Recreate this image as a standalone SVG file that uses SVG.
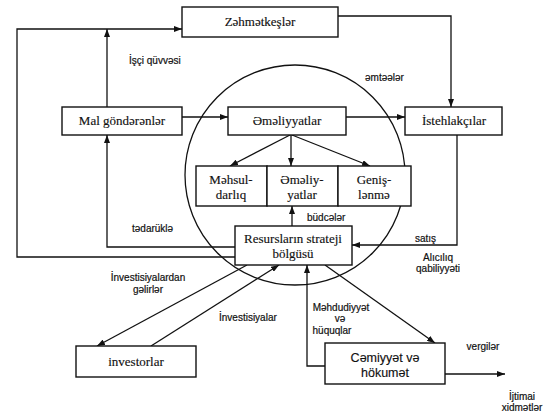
<svg xmlns="http://www.w3.org/2000/svg" width="550" height="413" viewBox="0 0 550 413">
  <style>
    .box { fill: #fff; stroke: #111; stroke-width: 1.4; }
    .line { fill: none; stroke: #111; stroke-width: 1.3; }
    .node { font-family: "Liberation Serif", "Times New Roman", serif; font-size: 13px; fill: #111; text-anchor: middle; stroke: #111; stroke-width: 0.15; }
    .node-sans { font-family: "Liberation Sans", Arial, sans-serif; font-size: 12.5px; }
    .lbl { font-family: "Liberation Sans", Arial, sans-serif; font-size: 10px; fill: #111; stroke: #111; stroke-width: 0.2; }
    .mid { text-anchor: middle; }
  </style>
  <defs>
    <marker id="arrow" markerUnits="userSpaceOnUse" markerWidth="8" markerHeight="6" refX="8" refY="3" orient="auto">
      <path d="M0,0 L8,3 L0,6 z" fill="#111"/>
    </marker>
  </defs>

  <rect width="550" height="413" fill="#fff"/>

  <!-- enterprise boundary -->
  <circle cx="295" cy="175" r="110" class="line"/>

  <!-- connectors -->
  <g id="connectors" class="line" marker-end="url(#arrow)">
    <path d="M235,257 H17 V29 H182"/>
    <path d="M107,107 V29"/>
    <path d="M235,247 H107 V135"/>
    <path d="M182,117 H228"/>
    <path d="M346,117 H405"/>
    <path d="M338,16 H451 V107"/>
    <path d="M457,135 V245 H352"/>
    <path d="M290,135 L230,166"/>
    <path d="M291,135 V166"/>
    <path d="M292,135 L370,166"/>
    <path d="M292,226 V206"/>
    <path d="M247,265 L97,346"/>
    <path d="M151,346 L279,265"/>
    <path d="M325,366 H307 V265"/>
    <path d="M325,265 L435,343"/>
    <path d="M445,374 H505"/>
  </g>

  <!-- flow labels -->
  <g id="labels">
    <text class="lbl" x="129" y="64">İşçi qüvvəsi</text>
    <text class="lbl" x="365" y="81">əmtəələr</text>
    <text class="lbl" x="132" y="232">tədarüklə</text>
    <text class="lbl" x="307" y="221">büdcələr</text>
    <text class="lbl" x="415" y="242">satış</text>
    <text class="lbl mid" x="438" y="261">Alıcılıq</text>
    <text class="lbl mid" x="438" y="272">qabiliyyəti</text>
    <text class="lbl mid" x="148" y="281">İnvestisiyalardan</text>
    <text class="lbl mid" x="148" y="293">gəlirlər</text>
    <text class="lbl" x="219" y="321">İnvestisiyalar</text>
    <text class="lbl mid" x="341" y="311">Məhdudiyyət</text>
    <text class="lbl mid" x="340" y="322">və</text>
    <text class="lbl mid" x="332" y="334">hüquqlar</text>
    <text class="lbl mid" x="483" y="350">vergilər</text>
    <text class="lbl mid" x="522" y="400">İjtimai</text>
    <text class="lbl mid" x="522" y="411">xidmətlər</text>
  </g>

  <g id="zehmetkesler">
    <rect class="box" x="182" y="7" width="156" height="30"/>
    <text class="node" x="260" y="26">Zəhmətkeşlər</text>
  </g>

  <g id="mal-gonderenler">
    <rect class="box" x="62" y="107" width="120" height="28"/>
    <text class="node" x="122" y="125">Mal göndərənlər</text>
  </g>

  <g id="emeliyyatlar">
    <rect class="box" x="228" y="107" width="118" height="28"/>
    <text class="node" x="287" y="125">Əməliyyatlar</text>
  </g>

  <g id="istehlakcilar">
    <rect class="box" x="405" y="107" width="97" height="28"/>
    <text class="node" x="454" y="125">İstehlakçılar</text>
  </g>

  <g id="mehsuldarliq">
    <rect class="box" x="196" y="166" width="71" height="40"/>
    <text class="node" x="231" y="184">Məhsul-</text>
    <text class="node" x="231" y="199">darlıq</text>
  </g>

  <g id="emeliyyatlar-2">
    <rect class="box" x="267" y="166" width="71" height="40"/>
    <text class="node" x="302" y="184">Əməliy-</text>
    <text class="node" x="302" y="199">yatlar</text>
  </g>

  <g id="genislenme">
    <rect class="box" x="338" y="166" width="73" height="40"/>
    <text class="node" x="374" y="184">Geniş-</text>
    <text class="node" x="374" y="199">lənmə</text>
  </g>

  <g id="resurslar">
    <rect class="box" x="235" y="226" width="117" height="39"/>
    <text class="node" x="293" y="243">Resursların strateji</text>
    <text class="node" x="293" y="258">bölgüsü</text>
  </g>

  <g id="investorlar">
    <rect class="box" x="76" y="346" width="120" height="31"/>
    <text class="node" x="136" y="366">investorlar</text>
  </g>

  <g id="cemiyyet">
    <rect class="box" x="325" y="343" width="120" height="41"/>
    <text class="node node-sans" x="385" y="362">Cəmiyyət və</text>
    <text class="node node-sans" x="385" y="377">hökumət</text>
  </g>
</svg>
